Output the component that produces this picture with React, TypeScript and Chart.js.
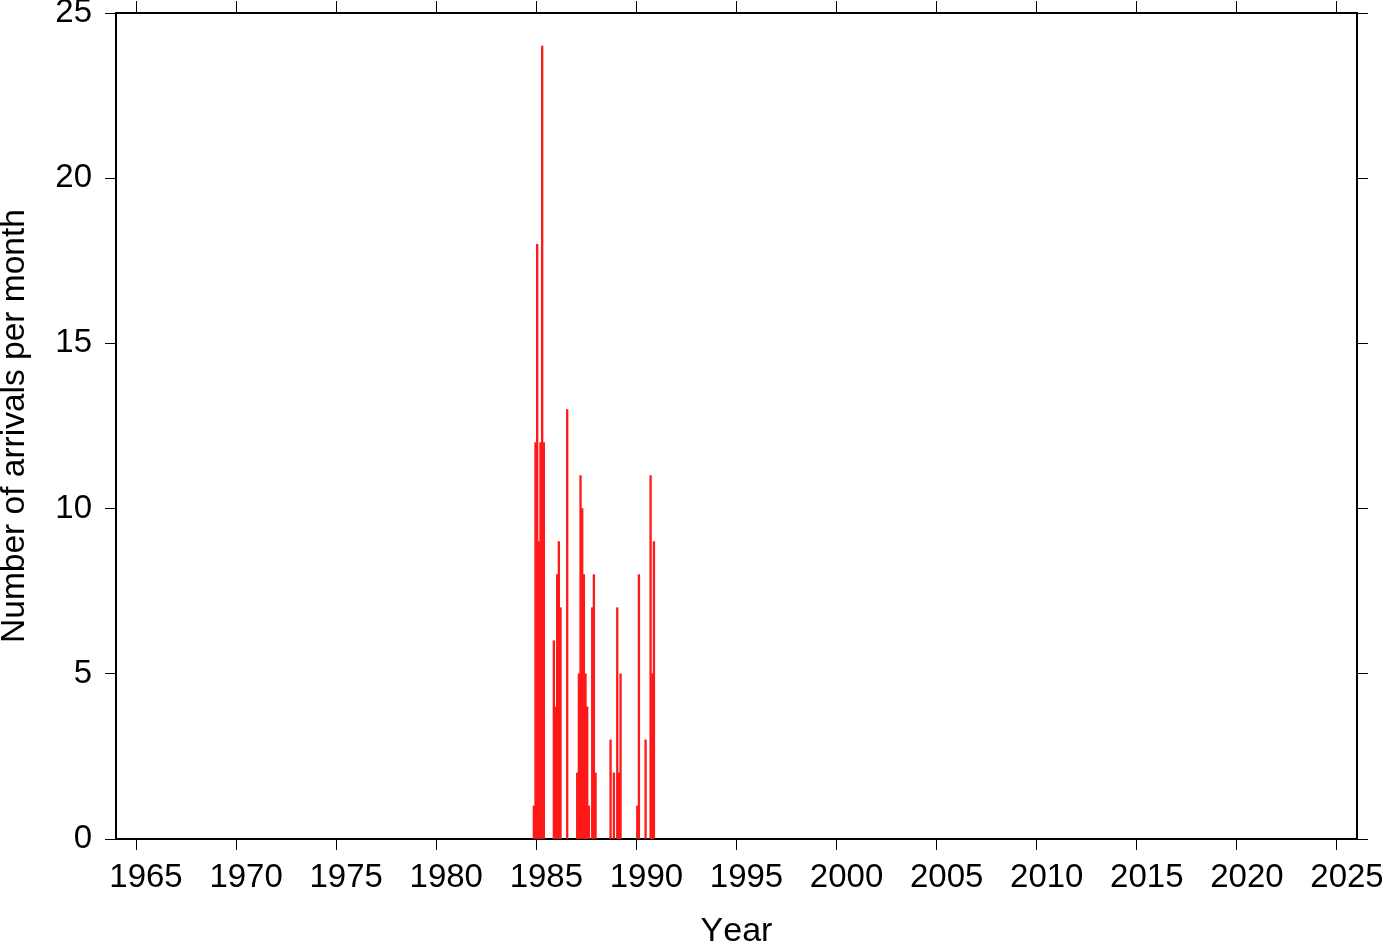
import React, { useEffect, useRef } from "react";
import { Chart, registerables } from "chart.js";

Chart.register(...registerables);

// Month of arrival (YYYY-MM) and number of arrivals in that month
const months: string[] = [
  "1984-11", "1984-12", "1985-01", "1985-02", "1985-03", "1985-04", "1985-05",
  "1985-11", "1985-12", "1986-01", "1986-02", "1986-03", "1986-07",
  "1987-01", "1987-02", "1987-03", "1987-04", "1987-05", "1987-06", "1987-07", "1987-08",
  "1987-10", "1987-11", "1987-12",
  "1988-09", "1988-11",
  "1989-01", "1989-02", "1989-03",
  "1990-01", "1990-02", "1990-06", "1990-09", "1990-10", "1990-11",
];
const counts: number[] = [
  1, 12, 18, 9, 12, 24, 12,
  6, 4, 8, 9, 7, 13,
  2, 5, 11, 10, 8, 5, 4, 1,
  7, 8, 2,
  3, 2,
  7, 2, 5,
  1, 8, 3, 11, 5, 9,
];
const xTickValues: number[] = [1965, 1970, 1975, 1980, 1985, 1990, 1995, 2000, 2005, 2010, 2015, 2020, 2025];
const yTickValues: number[] = [0, 5, 10, 15, 20, 25];
const xMin = 1964;
const xMax = 2026;
const yMin = 0;
const yMax = 25;
const xTitle = "Year";
const yTitle = "Number of arrivals per month";

const W = 1382;
const H = 942;
const LEFT = 116;
const RIGHT_W = 25;
const TOP_H = 13;
const BOTTOM_H = 103;

const FONT = "'Liberation Sans', Arial, Helvetica, sans-serif";

const noKerning = {
  id: "noKerning",
  beforeDraw(chart: any) {
    try {
      (chart.ctx as any).fontKerning = "none";
    } catch (e) {}
  },
};

export default function App() {
  const ref = useRef<HTMLCanvasElement | null>(null);

  useEffect(() => {
    const canvas = ref.current;
    if (!canvas) return;
    const points = months.map((m, i) => {
      const [y, mo] = m.split("-").map(Number);
      return { x: y + (mo - 0.5) / 12, y: counts[i] };
    });

    const gridCommon = {
      display: true,
      drawOnChartArea: false,
      drawTicks: true,
      offset: false,
      tickLength: 11,
      tickWidth: 1,
      tickColor: "#000",
      color: "#000",
    };
    const borderCommon = { display: true, color: "#000", width: 2 };

    const chart = new Chart(canvas, {
      type: "bar",
      data: {
        datasets: [
          {
            data: points as any,
            backgroundColor: "rgb(255,25,25)",
            borderWidth: 0,
            barPercentage: 1,
            categoryPercentage: 1,
          },
        ],
      },
      plugins: [noKerning],
      options: {
        responsive: false,
        animation: false,
        devicePixelRatio: 1,
        layout: { padding: 0 },
        plugins: { legend: { display: false }, tooltip: { enabled: false } },
        scales: {
          x: {
            type: "linear",
            position: "bottom",
            min: xMin,
            max: xMax,
            offset: false,
            afterBuildTicks: (s: any) => {
              s.ticks = xTickValues.map((v) => ({ value: v }));
            },
            afterFit: (s: any) => {
              s.height = BOTTOM_H;
              s.paddingLeft = 0;
              s.paddingRight = 0;
            },
            ticks: {
              color: "#000",
              font: { family: FONT, size: 33 },
              padding: 8,
              labelOffset: 10,
              maxRotation: 0,
              autoSkip: false,
              callback: (v: any) => String(v),
            },
            grid: gridCommon,
            border: borderCommon,
            title: {
              display: true,
              text: xTitle,
              color: "#000",
              font: { family: FONT, size: 34, lineHeight: 0.6 },
              padding: 0,
            },
          },
          x2: {
            type: "linear",
            position: "top",
            min: xMin,
            max: xMax,
            offset: false,
            afterBuildTicks: (s: any) => {
              s.ticks = xTickValues.map((v) => ({ value: v }));
            },
            afterFit: (s: any) => {
              s.height = TOP_H;
              s.paddingLeft = 0;
              s.paddingRight = 0;
            },
            ticks: { display: false },
            grid: { ...gridCommon, tickLength: 12 },
            border: borderCommon,
          },
          y: {
            type: "linear",
            position: "left",
            min: yMin,
            max: yMax,
            afterBuildTicks: (s: any) => {
              s.ticks = yTickValues.map((v) => ({ value: v }));
            },
            afterFit: (s: any) => {
              s.width = LEFT;
              s.paddingTop = 0;
              s.paddingBottom = 0;
            },
            ticks: {
              color: "#000",
              font: { family: FONT, size: 33 },
              padding: 13,
              callback: (v: any) => String(v),
            },
            grid: gridCommon,
            border: borderCommon,
            title: {
              display: true,
              text: yTitle,
              color: "#000",
              font: { family: FONT, size: 33.5, lineHeight: 0.9 },
              padding: 0,
            },
          },
          y2: {
            type: "linear",
            position: "right",
            min: yMin,
            max: yMax,
            afterBuildTicks: (s: any) => {
              s.ticks = yTickValues.map((v) => ({ value: v }));
            },
            afterFit: (s: any) => {
              s.width = RIGHT_W;
              s.paddingTop = 0;
              s.paddingBottom = 0;
            },
            ticks: { display: false },
            grid: gridCommon,
            border: borderCommon,
          },
        },
      },
    } as any);

    return () => chart.destroy();
  }, []);

  return (
    <div style={{ position: "absolute", left: 0, top: 0, width: W, height: H, background: "#fff" }}>
      <canvas ref={ref} width={W} height={H} style={{ display: "block", width: W, height: H }} />
    </div>
  );
}
